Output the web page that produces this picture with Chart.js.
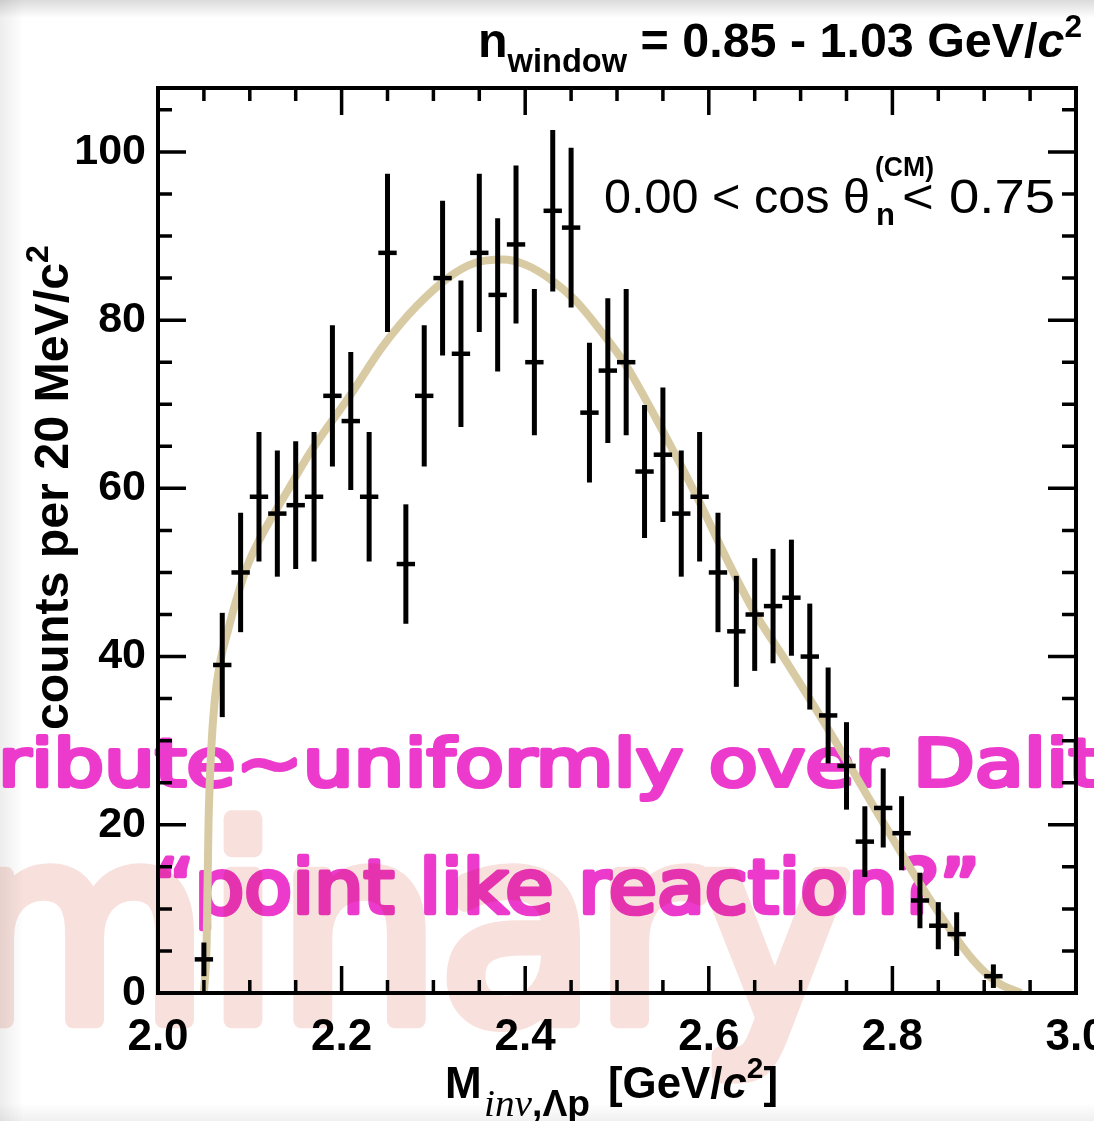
<!DOCTYPE html>
<html><head><meta charset="utf-8">
<script src="https://cdn.jsdelivr.net/npm/chart.js@4.4.1/dist/chart.umd.min.js"></script>
<style>html,body{margin:0;padding:0;background:#fff;overflow:hidden}canvas{display:block}</style>
</head><body>
<canvas id="c" width="1094" height="1121"></canvas>
<script>
// ---- data ----
const binCenters = [2.05,2.07,2.09,2.11,2.13,2.15,2.17,2.19,2.21,2.23,
  2.25,2.27,2.29,2.31,2.33,2.35,2.37,2.39,2.41,2.43,
  2.45,2.47,2.49,2.51,2.53,2.55,2.57,2.59,2.61,2.63,
  2.65,2.67,2.69,2.71,2.73,2.75,2.77,2.79,2.81,2.83,
  2.85,2.87,2.91];
const counts = [4,39,50,59,57,58,59,71,68,59,
  88,51,71,85,76,88,83,89,75,93,
  91,69,74,75,62,64,57,59,50,43,
  45,46,47,40,33,27,18,22,19,11,
  8,7,2];
const countErrors = [2.0,6.2,7.1,7.7,7.5,7.6,7.7,8.4,8.2,7.7,
  9.4,7.1,8.4,9.2,8.7,9.4,9.1,9.4,8.7,9.6,
  9.5,8.3,8.6,8.7,7.9,8.0,7.5,7.7,7.1,6.6,
  6.7,6.8,6.9,6.3,5.7,5.2,4.2,4.7,4.4,3.3,
  2.8,2.6,1.4];
const binHalfWidth = 0.01;
const curveX = [2.050,2.053,2.055,2.058,2.062,2.068,2.076,2.086,2.097,2.111,2.140,2.166,2.209,2.245,2.282,2.318,2.345,2.376,2.400,2.427,2.455,2.481,2.510,2.543,2.587,2.620,2.648,2.685,2.732,2.786,2.841,2.888,2.915,2.940];
const curveY = [0,6,20,29,35,39.5,43,47,50.7,54,59.5,64.3,71,76.9,81.7,85.2,86.8,87.2,86.6,84.9,82.3,78.9,74.6,68.2,59.0,51.5,45.6,39.3,31.0,21.0,11.1,3.9,1.2,0];
const xTickValues = [2.0,2.2,2.4,2.6,2.8,3.0];
const xTickLabels = ['2.0','2.2','2.4','2.6','2.8','3.0'];
const yTickValues = [0,20,40,60,80,100];
const yTickLabels = ['0','20','40','60','80','100'];
const xRange = [2.0, 3.0];
const yRange = [0, 107.6];

// ---- drawing helpers ----
const SANS = '"Liberation Sans", Arial, sans-serif';
const SERIF = '"Liberation Serif", "Times New Roman", serif';
const ROUND = '"DejaVu Sans", sans-serif';
function runsWidth(ctx, runs){ let w=0; for(const r of runs){ ctx.font=r.font; w+=ctx.measureText(r.t).width; } return w; }
function drawRuns(ctx, runs, x0, x1, y, strokeW){
  const w = runsWidth(ctx, runs); const s = (x1-x0)/w;
  ctx.save(); ctx.translate(x0, y); ctx.scale(s, 1);
  let x = 0;
  for(const r of runs){
    ctx.font=r.font; ctx.fillText(r.t, x, r.dy||0);
    if(strokeW){ ctx.lineWidth=strokeW/s; ctx.lineJoin='round'; ctx.lineCap='round'; ctx.strokeText(r.t, x, r.dy||0); }
    x += ctx.measureText(r.t).width;
  }
  ctx.restore();
}

const decor = {
  id:'decor',
  beforeDraw(chart){
    const ctx = chart.ctx, W = chart.width, H = chart.height;
    ctx.save();
    ctx.fillStyle = '#fff'; ctx.fillRect(0,0,W,H);
    let g = ctx.createLinearGradient(0,0,0,18);
    g.addColorStop(0,'rgba(0,0,0,0.14)'); g.addColorStop(1,'rgba(0,0,0,0)');
    ctx.fillStyle = g; ctx.fillRect(0,0,W,18);
    g = ctx.createLinearGradient(0,0,24,0);
    g.addColorStop(0,'rgba(0,0,0,0.07)'); g.addColorStop(1,'rgba(0,0,0,0)');
    ctx.fillStyle = g; ctx.fillRect(0,0,24,H);
    g = ctx.createLinearGradient(0,H-18,0,H);
    g.addColorStop(0,'rgba(0,0,0,0)'); g.addColorStop(1,'rgba(0,0,0,0.06)');
    ctx.fillStyle = g; ctx.fillRect(0,H-18,W,18);
    ctx.restore();
  },
  beforeDatasetsDraw(chart){
    const ctx = chart.ctx;
    ctx.save();
    ctx.fillStyle = 'rgb(236,58,204)'; ctx.strokeStyle = 'rgb(236,58,204)';
    ctx.textBaseline = 'alphabetic';
    // line 1
    ctx.font = '66px '+ROUND;
    const full = 'distribute~uniformly over Dalitz';
    const wPre = ctx.measureText('dist').width;
    const wToD = ctx.measureText('distribute~uniformly over ').width;
    const s1 = (913 - (-2)) / (wToD - wPre);
    ctx.save(); ctx.translate(-2 - wPre*s1, 786); ctx.scale(s1,1);
    ctx.fillText(full, 0, 0);
    ctx.lineWidth = 5/s1; ctx.lineJoin='round'; ctx.lineCap='round'; ctx.strokeText(full, 0, 0);
    ctx.restore();
    // line 2
    drawRuns(ctx, [{t:'\u201Cpoint like reaction?\u201D', font:'74px '+ROUND}], 154, 980, 913, 5);
    ctx.restore();
  },
  afterDatasetsDraw(chart){
    const ctx = chart.ctx, xs = chart.scales.x, ys = chart.scales.y, a = chart.chartArea;
    ctx.save();
    // vertical error bars
    ctx.strokeStyle = '#000'; ctx.lineWidth = 5; ctx.lineCap = 'butt';
    binCenters.forEach((c,i)=>{
      const px = xs.getPixelForValue(c);
      const t = ys.getPixelForValue(counts[i]+countErrors[i]);
      const b = ys.getPixelForValue(Math.max(0, counts[i]-countErrors[i]));
      ctx.beginPath(); ctx.moveTo(px,t); ctx.lineTo(px,b); ctx.stroke();
    });
    // frame
    ctx.lineWidth = 4;
    ctx.strokeRect(a.left, a.top, a.right-a.left, a.bottom-a.top);
    // ticks
    ctx.lineWidth = 3.5;
    for(let k=0;k<=20;k++){
      const v = xRange[0] + k*0.05;
      const px = xs.getPixelForValue(v);
      const len = (k%4===0) ? 27 : 13;
      ctx.beginPath();
      ctx.moveTo(px, a.bottom); ctx.lineTo(px, a.bottom-len);
      ctx.moveTo(px, a.top); ctx.lineTo(px, a.top+len);
      ctx.stroke();
    }
    for(let v=0; v<=yRange[1]; v+=5){
      const py = ys.getPixelForValue(v);
      const len = (v%20===0) ? 28 : 14;
      ctx.beginPath();
      ctx.moveTo(a.left, py); ctx.lineTo(a.left+len, py);
      ctx.moveTo(a.right, py); ctx.lineTo(a.right-len, py);
      ctx.stroke();
    }
    // texts
    ctx.fillStyle = '#000'; ctx.textBaseline = 'alphabetic';
    drawRuns(ctx, [
      {t:'n', font:'bold 49px '+SANS},
      {t:'window', font:'bold 33px '+SANS, dy:15},
      {t:' = 0.85 - 1.03 GeV/', font:'bold 49px '+SANS},
      {t:'c', font:'italic bold 49px '+SANS},
      {t:'2', font:'bold 32px '+SANS, dy:-20}
    ], 478, 1082, 57);
    drawRuns(ctx, [{t:'0.00 < cos \u03B8', font:'48px '+SANS}], 604, 870, 213);
    ctx.font = 'bold 31px '+SANS; ctx.fillText('n', 876, 225);
    drawRuns(ctx, [{t:'(CM)', font:'bold 27px '+SANS}], 875, 934, 176);
    drawRuns(ctx, [{t:'< 0.75', font:'48px '+SANS}], 902, 1055, 213);
    ctx.font = 'bold 44px '+SANS; ctx.fillText('M', 445, 1098);
    drawRuns(ctx, [
      {t:'inv', font:'italic 38px '+SERIF},
      {t:',\u039Bp', font:'bold 36px '+SANS}
    ], 484, 590, 1116);
    drawRuns(ctx, [
      {t:'[GeV/', font:'bold 44px '+SANS},
      {t:'c', font:'italic bold 44px '+SANS},
      {t:'2', font:'bold 30px '+SANS, dy:-20},
      {t:']', font:'bold 44px '+SANS}
    ], 608, 778, 1098);
    ctx.save(); ctx.translate(68, 730); ctx.rotate(-Math.PI/2);
    drawRuns(ctx, [
      {t:'counts per 20 MeV/c', font:'bold 48px '+SANS},
      {t:'2', font:'bold 32px '+SANS, dy:-20}
    ], 0, 485, 0);
    ctx.restore();
    ctx.restore();
  },
  afterDraw(chart){
    const ctx = chart.ctx, W = chart.width, H = chart.height;
    const off = document.createElement('canvas'); off.width = W; off.height = H;
    const o = off.getContext('2d');
    o.fillStyle = 'rgb(248,225,220)'; o.strokeStyle = 'rgb(248,225,220)';
    drawRuns(o, [{t:'minary', font:'265px '+ROUND}], -40, 850, 1020, 16);
    ctx.save();
    ctx.globalCompositeOperation = 'multiply';
    ctx.drawImage(off, 0, 0);
    ctx.restore();
  }
};

const ctx = document.getElementById('c').getContext('2d');
new Chart(ctx, {
  type: 'scatter',
  data: { datasets: [
    { type:'scatter', label:'data',
      data: binCenters.map((x,i)=>({x:x, y:counts[i]})),
      pointStyle:'line', borderColor:'#000', backgroundColor:'#000', borderWidth:4.5,
      pointRadius: (c)=>{ const s=c.chart.scales.x; return s ? Math.abs(s.getPixelForValue(xRange[0]+binHalfWidth)-s.getPixelForValue(xRange[0])) : 9; },
      order:0 },
    { type:'line', label:'fit',
      data: curveX.map((x,i)=>({x:x, y:curveY[i]})),
      borderColor:'rgb(216,203,164)', borderWidth:8, pointRadius:0, fill:false,
      cubicInterpolationMode:'monotone', order:1 }
  ]},
  options: {
    responsive:false, animation:false, devicePixelRatio:1,
    layout:{ padding:{ left:0, right:18, top:88, bottom:0 } },
    plugins:{ legend:{display:false}, tooltip:{enabled:false} },
    scales:{
      x:{ type:'linear', position:'bottom', min:xRange[0], max:xRange[1],
        afterBuildTicks:(s)=>{ s.ticks = xTickValues.map(v=>({value:v})); },
        ticks:{ callback:(v,i)=>xTickLabels[i], font:{family:'"Liberation Sans"', weight:'bold', size:44}, color:'#000', padding:18, maxRotation:0, autoSkip:false },
        grid:{display:false, drawTicks:false}, border:{display:false},
        afterFit:(s)=>{ s.height=128; s.paddingLeft=0; s.paddingRight=0; } },
      y:{ type:'linear', position:'left', min:yRange[0], max:yRange[1],
        afterBuildTicks:(s)=>{ s.ticks = yTickValues.map(v=>({value:v})); },
        ticks:{ callback:(v,i)=>yTickLabels[i], font:{family:'"Liberation Sans"', weight:'bold', size:43}, color:'#000', padding:12 },
        grid:{display:false, drawTicks:false}, border:{display:false},
        afterFit:(s)=>{ s.width=158; s.paddingTop=0; s.paddingBottom=0; } }
    }
  },
  plugins:[decor]
});
</script>
</body></html>
